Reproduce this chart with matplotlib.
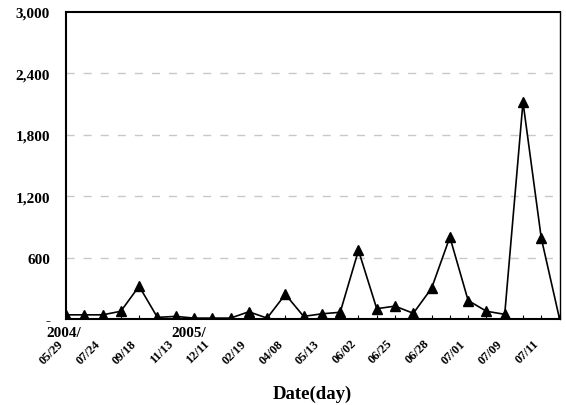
import matplotlib
matplotlib.use("Agg")
import matplotlib.pyplot as plt
import matplotlib.transforms as mtransforms

# data
dates = ["05/29", "", "07/24", "", "09/18", "", "11/13", "", "12/11", "",
         "02/19", "", "04/08", "", "05/13", "", "06/02", "", "06/25", "",
         "06/28", "", "07/01", "", "07/09", "", "07/11", ""]
values = [40, 40, 40, 75, 320, 15, 25, 8, 8, 8,
          70, 8, 240, 25, 50, 65, 670, 100, 125, 55,
          300, 800, 180, 75, 45, 2120, 790, 0]
yticks = [0, 600, 1200, 1800, 2400, 3000]
ytick_labels = ["-", "600", "1,200", "1,800", "2,400", "3,000"]
year_marks = [(-0.1, "2004/"), (6.7, "2005/")]

plt.rcParams['font.family'] = ['Liberation Serif', 'DejaVu Serif']
plt.rcParams['font.weight'] = 'bold'

fig = plt.figure(figsize=(5.66, 4.06), dpi=100)
ax = fig.add_axes([0.1166, 0.212, 0.872, 0.756])

x = list(range(len(values)))
ax.plot(x, values, color='black', linewidth=1.2, marker='^', markersize=6.5)

ax.set_xlim(0, len(values) - 1)
ax.set_ylim(0, 3000)
ax.set_yticks(yticks)
ax.set_yticklabels(ytick_labels, fontsize=11, fontweight='bold')
ax.tick_params(axis='y', length=0, pad=11.5)

ax.set_xticks(x)
ax.set_xticklabels(dates, rotation=45, ha='right', fontsize=9, fontweight='bold')
ax.tick_params(axis='x', direction='in', length=3, width=0.8, pad=13)

for yv in yticks[1:-1]:
    ax.axhline(yv, color='#c8c8c8', linestyle=(0, (5.8, 6.5)), linewidth=1, zorder=0)

for side in ['left', 'bottom', 'top']:
    ax.spines[side].set_linewidth(1.5)
ax.spines['right'].set_linewidth(1.0)

trans = mtransforms.blended_transform_factory(ax.transData, ax.transAxes)
for pos, txt in year_marks:
    ax.text(pos, -0.022, txt, transform=trans, ha='center', va='top',
            fontsize=11, fontweight='bold')

ax.set_xlabel("Date(day)", fontsize=13.5, fontweight='bold', labelpad=14)

fig.savefig("out.png", dpi=100)
